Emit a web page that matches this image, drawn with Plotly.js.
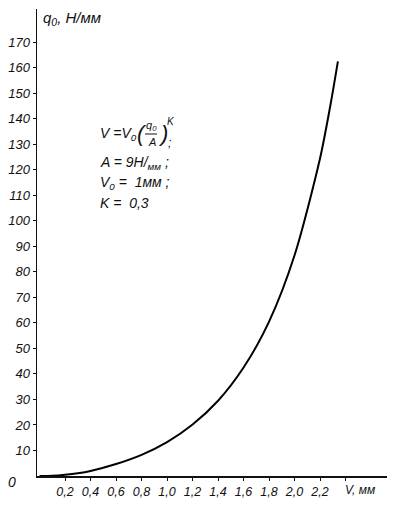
<!DOCTYPE html>
<html>
<head>
<meta charset="utf-8">
<script src="https://cdn.plot.ly/plotly-3.0.1.min.js"></script>
<style>html,body{margin:0;padding:0;background:#fff;}#chart{width:393px;height:505px;}</style>
</head>
<body>
<div id="chart"></div>
<script>
// Curve: displacement V (mm) vs load q0 (N/mm)
const V_mm = [0, 0.1, 0.2, 0.3, 0.4, 0.6, 0.8, 1.0, 1.2, 1.4, 1.6, 1.8, 2.0, 2.2, 2.28, 2.34];
const q0 = [0, 0.1, 0.5, 1.1, 2.0, 4.7, 8.3, 13.3, 20.2, 29.5, 42.5, 60.5, 86.5, 124.5, 145, 162.5];

const xTickVals = [0.2, 0.4, 0.6, 0.8, 1.0, 1.2, 1.4, 1.6, 1.8, 2.0, 2.2, 2.4];
const xTickText = ["0,2", "0,4", "0,6", "0,8", "1,0", "1,2", "1,4", "1,6", "1,8", "2,0", "2,2", ""];
const xAxisName = "V, мм";
const yTickVals = [10, 20, 30, 40, 50, 60, 70, 80, 90, 100, 110, 120, 130, 140, 150, 160, 170];
const yTickText = yTickVals.map(String);

const FONT = "Liberation Sans, DejaVu Sans, sans-serif";
const L = 37, T = 9, W = 350, H = 467;
function px(x) { return (x - L) / W; }
function py(y) { return (T + H - y) / H; }
function ann(text, x, y, size, xa) {
  return {text: text, xref: 'paper', yref: 'paper', x: px(x), y: py(y),
    xanchor: xa || 'left', yanchor: 'middle', showarrow: false, borderpad: 0,
    font: {family: FONT, size: size, color: '#111', style: 'italic'}};
}

const trace = {
  x: V_mm, y: q0, type: 'scatter', mode: 'lines',
  line: {color: '#000', width: 2, shape: 'spline', smoothing: 0.8},
  hoverinfo: 'skip'
};

const layout = {
  width: 393, height: 505,
  margin: {l: L, r: 393 - L - W, t: T, b: 505 - T - H},
  paper_bgcolor: '#fff', plot_bgcolor: '#fff',
  showlegend: false,
  xaxis: {
    range: [-0.02, 2.725], showgrid: false, zeroline: false,
    showline: true, linecolor: '#111', linewidth: 1.5,
    ticks: 'outside', ticklen: 3, tickcolor: '#111', tickwidth: 1,
    tickvals: xTickVals, ticktext: xTickText, tickangle: 0,
    tickfont: {family: FONT, size: 12.5, color: '#111', style: 'italic'}
  },
  yaxis: {
    range: [0, 183], showgrid: false, zeroline: false,
    showline: true, linecolor: '#111', linewidth: 1.5,
    ticks: 'outside', ticklen: 3, tickcolor: '#111', tickwidth: 1,
    tickvals: yTickVals, ticktext: yTickText,
    tickfont: {family: FONT, size: 13, color: '#111', style: 'italic'}
  },
  annotations: [
    ann('0', 7, 482, 14),
    ann(xAxisName, 344, 490, 12),
    ann('q<sub>0</sub>, Н/мм', 42, 18, 15),
    ann('V =V<sub>0</sub>', 99, 134, 14),
    ann('(', 136, 133, 22),
    ann('q<sub>0</sub>', 145, 126, 11),
    ann('A', 147, 142, 11),
    ann(')', 157, 133, 22),
    ann('K', 166, 121, 10),
    ann(';', 167, 143, 12),
    ann('A = 9Н/<sub>мм</sub> ;', 99, 163, 14),
    ann('V<sub>0</sub> =  1мм ;', 99, 183, 14),
    ann('K =  0,3', 99, 203, 14)
  ],
  shapes: [
    {type: 'line', xref: 'paper', yref: 'paper', x0: px(145), x1: px(157), y0: py(134), y1: py(134),
     line: {color: '#111', width: 1}}
  ]
};

Plotly.newPlot('chart', [trace], layout, {staticPlot: true, displayModeBar: false});
</script>
</body>
</html>
